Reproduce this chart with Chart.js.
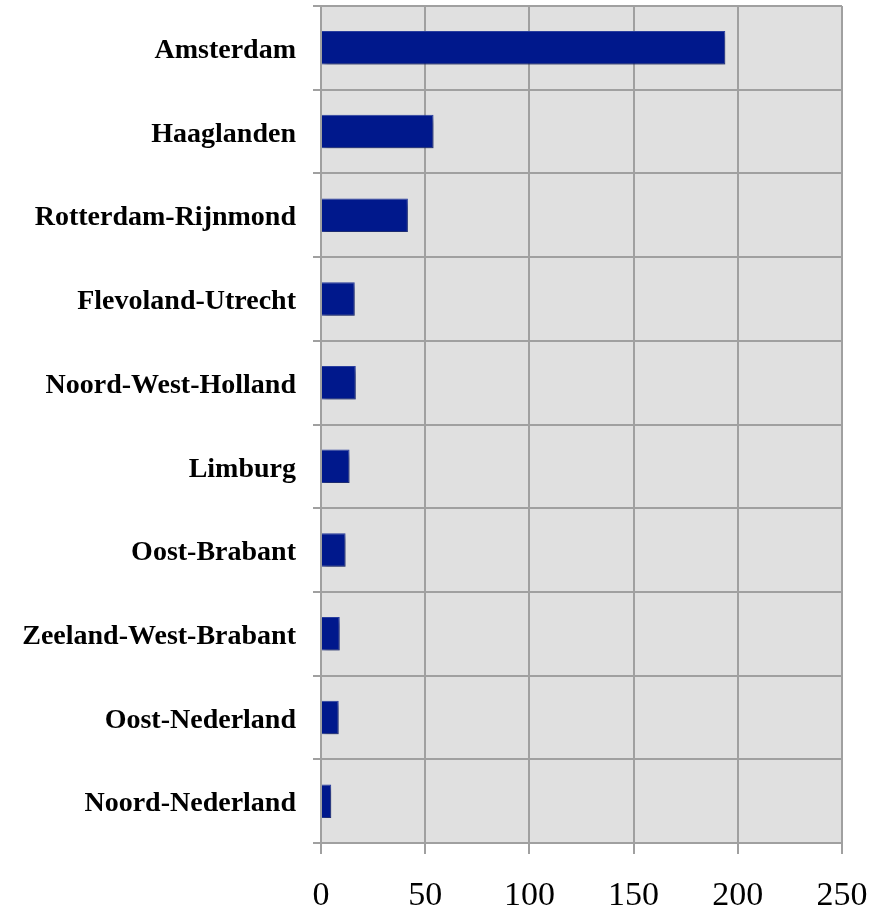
<!DOCTYPE html>
<html lang="en">
<head>
    <meta charset="UTF-8">
    <title>Regio's</title>
    <style>
        html, body {
            margin: 0;
            padding: 0;
            background: #ffffff;
        }
        #wrap {
            width: 886px;
            height: 912px;
        }
    </style>
</head>
<body>
    <div id="wrap"><canvas id="regioChart" width="886" height="912"></canvas></div>

    <script src="https://cdn.jsdelivr.net/npm/chart.js"></script>
    <script>
        var regions = ['Amsterdam', 'Haaglanden', 'Rotterdam-Rijnmond', 'Flevoland-Utrecht',
            'Noord-West-Holland', 'Limburg', 'Oost-Brabant', 'Zeeland-West-Brabant',
            'Oost-Nederland', 'Noord-Nederland'];
        var counts = [194, 54, 41.7, 16.2, 16.7, 13.7, 11.8, 9, 8.5, 4.9];
        var xTicks = [0, 50, 100, 150, 200, 250];

        // grey plot background
        var plotBackground = {
            id: 'plotBackground',
            beforeDraw: function(chart) {
                var a = chart.chartArea;
                var ctx = chart.ctx;
                ctx.save();
                ctx.fillStyle = '#e0e0e0';
                ctx.fillRect(a.left, a.top, a.right - a.left, a.bottom - a.top);
                ctx.restore();
            }
        };

        // soft drop shadow under the bars
        var barShadow = {
            id: 'barShadow',
            beforeDatasetsDraw: function(chart) {
                var ctx = chart.ctx;
                ctx.save();
                ctx.shadowColor = 'rgba(0,0,0,0.35)';
                ctx.shadowBlur = 5;
                ctx.shadowOffsetX = 2;
                ctx.shadowOffsetY = 4;
            },
            afterDatasetsDraw: function(chart) {
                chart.ctx.restore();
            }
        };

        var ctx = document.getElementById('regioChart').getContext('2d');
        new Chart(ctx, {
            type: 'bar',
            data: {
                labels: regions,
                datasets: [{
                    data: counts,
                    backgroundColor: '#00188c',
                    borderColor: '#2a3fa0',
                    borderWidth: 1,
                    barPercentage: 0.4,
                    categoryPercentage: 1
                }]
            },
            options: {
                indexAxis: 'y',
                responsive: false,
                animation: false,
                layout: {
                    padding: { top: 6, right: 44, left: 0, bottom: 0 }
                },
                plugins: {
                    legend: { display: false },
                    tooltip: { enabled: false }
                },
                scales: {
                    x: {
                        min: 0,
                        max: 250,
                        afterBuildTicks: function(scale) {
                            scale.ticks = xTicks.map(function(v) { return { value: v }; });
                        },
                        afterFit: function(scale) {
                            scale.height = 69;
                            scale.paddingLeft = 0;
                            scale.paddingRight = 0;
                        },
                        grid: {
                            color: '#a0a0a0',
                            lineWidth: 2,
                            tickLength: 11
                        },
                        border: { color: '#a0a0a0', width: 2 },
                        ticks: {
                            color: '#000000',
                            padding: 22,
                            maxRotation: 0,
                            font: { family: 'Liberation Serif', size: 34 }
                        }
                    },
                    y: {
                        afterFit: function(scale) {
                            scale.width = 321;
                            scale.paddingTop = 0;
                            scale.paddingBottom = 0;
                        },
                        grid: {
                            color: '#a0a0a0',
                            lineWidth: 2,
                            tickLength: 8,
                            offset: true
                        },
                        border: { color: '#a0a0a0', width: 2 },
                        ticks: {
                            color: '#000000',
                            padding: 17,
                            labelOffset: 3,
                            font: { family: 'Liberation Serif', size: 28, weight: 'bold' }
                        }
                    }
                }
            },
            plugins: [plotBackground, barShadow]
        });
    </script>
</body>
</html>
